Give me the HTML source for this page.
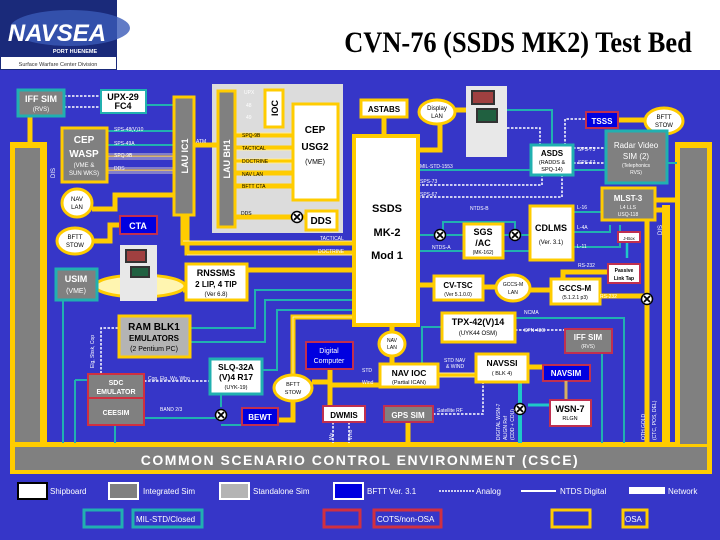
<!DOCTYPE html>
<html><head><meta charset="utf-8"><style>
html,body{margin:0;padding:0;width:720px;height:540px;overflow:hidden;background:#fff}
svg{display:block;font-family:"Liberation Sans",sans-serif}
</style></head><body>
<svg width="720" height="540" viewBox="0 0 720 540" xmlns="http://www.w3.org/2000/svg">
<defs>
<g id="xc"><circle r="5.5" fill="#fff" stroke="#000" stroke-width="1.5"/><path d="M-3,-3L3,3M-3,3L3,-3" stroke="#000" stroke-width="1.8"/></g>
</defs>
<!-- header -->
<rect x="0" y="0" width="720" height="70" fill="#fff"/>
<rect x="0" y="0" width="117" height="70" fill="#1a2a7a"/>
<ellipse cx="70" cy="28" rx="60" ry="18" fill="#3a5ab8" opacity="0.8"/>
<text x="57" y="41" text-anchor="middle" font-size="24" font-weight="bold" font-style="italic" fill="#fff">NAVSEA</text>
<text x="75" y="53" text-anchor="middle" font-size="5.5" font-weight="bold" fill="#fff">PORT HUENEME</text>
<rect x="1" y="57" width="115" height="12" fill="#fff"/>
<text x="58" y="66" text-anchor="middle" font-size="5.5" fill="#333">Surface Warfare Center Division</text>
<text x="518" y="52" text-anchor="middle" font-size="30" font-weight="bold" font-family="Liberation Serif,serif" fill="#000" transform="translate(518,0) scale(0.88,1) translate(-518,0)">CVN-76 (SSDS MK2) Test Bed</text>
<rect x="0" y="70" width="720" height="470" fill="#3636c8"/>

<!-- frame bars -->
<rect x="10" y="142" width="37" height="310" fill="#ffcc00"/>
<rect x="15" y="148" width="25" height="300" fill="#808080"/>
<rect x="10" y="442" width="702" height="32" fill="#ffcc00"/>
<rect x="15" y="447" width="692" height="23" fill="#808080"/>
<text x="360" y="465" text-anchor="middle" font-size="14" font-weight="bold" fill="#fff" letter-spacing="1.5">COMMON SCENARIO CONTROL ENVIRONMENT (CSCE)</text>
<rect x="675" y="142" width="37" height="305" fill="#ffcc00"/>
<rect x="680" y="148" width="27" height="296" fill="#808080"/>
<rect x="662" y="205" width="8" height="240" fill="#ffcc00"/>
<text x="662" y="235" font-size="6" fill="#fff" transform="rotate(-90 662 235)">DIS</text>
<text x="55" y="178" font-size="6" fill="#fff" transform="rotate(-90 55 178)">DIS</text>

<!-- gray panel -->
<rect x="212" y="84" width="131" height="149" fill="#dcdcdc"/>

<!-- yellow buses -->
<g stroke="#ffcc00" fill="none" stroke-width="5">
<path d="M195,145H217"/>
<path d="M235,135H292M235,148H292M235,161H292M235,173H292M235,186H292"/>
<path d="M235,217H305"/>
<path d="M183,215V243H353M187,215V253H353"/>
<path d="M247,270H353"/>
<path d="M384,117V135"/>
<path d="M647,220V443"/>
<path d="M600,296H647"/>
<path d="M210,290H183"/>
<path d="M92,209H115V195H175"/>
<path d="M94,241H110V225H119"/>
<path d="M392,342V363"/>
<path d="M392,325V332"/>
<path d="M438,375H475"/>
<path d="M380,385H330V405"/>
<path d="M528,367H542"/>
<path d="M408,422V443"/>
<path d="M293,402V420H278"/>
<path d="M330,369V382H312"/>
<path d="M293,376V317H353"/>
<path d="M418,285H433M483,287H496M530,290H550"/>
<path d="M563,278V272H607"/>
<path d="M655,200H675M655,210H662"/>
<path d="M618,120H645"/>
<path d="M455,110H466"/>
<path d="M420,150H440V123"/>
<path d="M30,116V142"/>
</g>
<g stroke="#fff5cc" stroke-width="0.7" fill="none">
<path d="M183,241H353M187,255H353M235,133H292M235,150H292M235,159H292M235,163H292"/>
<path d="M107,154H173M107,157H173M107,159H173M107,168H173M107,171H173M107,173H173"/>
<path d="M438,373H475M438,377H475M293,376V317H353"/>
</g>
<g stroke="#d8b060" stroke-width="1.5" fill="none">
<path d="M107,156H173M107,170H173"/>
</g>

<!-- teal lines -->
<g stroke="#21b0b0" stroke-width="2" fill="none">
<path d="M146,105H173"/>
<path d="M107,131H173M107,145H173"/>
<path d="M30,116V89"/>
<path d="M418,170H605"/>
<path d="M418,235H463M503,235H529M418,251H463M503,251H529"/>
<path d="M443,235V222H515V235"/>
<path d="M573,212H610V190M573,232H610V225M573,247H620V225"/>
<path d="M667,163H677"/>
<path d="M507,110H552V144"/>
<path d="M190,328H255V290H353M190,342H265V300H353M262,370H277V310H353"/>
<path d="M63,300V443M75,380H87M75,380V443M115,425V443"/>
<path d="M221,394V407M221,425H241M144,418H221"/>
<path d="M441,327H422V363"/>
<path d="M515,318H624V443M602,353V443"/>
</g>
<path d="M520,382V443" stroke="#1fc8c8" stroke-width="4"/>
<path d="M549,405H528" stroke="#1fc8c8" stroke-width="3"/>
<path d="M627,242V258" stroke="#1fc8c8" stroke-width="2.5"/>
<!-- white dashed -->
<g stroke="#fff" stroke-width="1.5" stroke-dasharray="2.5,1.5" fill="none">
<path d="M64,96H101M64,107H101"/>
<path d="M418,185H542V176M418,197H562V176"/>
<path d="M507,128H540V144"/>
<path d="M573,148H605M573,163H605"/>
<path d="M585,119H565V144"/>
<path d="M118,328H101V373"/>
<path d="M144,381H209"/>
<path d="M515,330H564"/>
<path d="M433,414H483V382"/>
<path d="M333,422V443M349,422V443"/>
</g>
<use href="#xc" x="297" y="217"/>
<use href="#xc" x="440" y="235"/>
<use href="#xc" x="515" y="235"/>
<use href="#xc" x="647" y="299"/>
<use href="#xc" x="221" y="415"/>
<use href="#xc" x="520" y="409"/>

<!-- computer images -->
<ellipse cx="140" cy="286" rx="45" ry="11" fill="#fff5b0" stroke="#ffcc00" stroke-width="3"/>
<rect x="120" y="245" width="37" height="56" fill="#e8e8e8"/>
<rect x="125" y="249" width="22" height="14" fill="#333"/><rect x="127" y="251" width="18" height="10" fill="#a04040"/>
<rect x="130" y="266" width="20" height="12" fill="#333"/><rect x="132" y="268" width="16" height="8" fill="#206040"/>
<rect x="466" y="86" width="41" height="71" fill="#e8e8e8"/>
<rect x="471" y="90" width="24" height="15" fill="#333"/><rect x="473" y="92" width="20" height="11" fill="#a04040"/>
<rect x="476" y="108" width="22" height="15" fill="#333"/><rect x="478" y="110" width="18" height="11" fill="#206040"/>

<!-- boxes -->
<g font-weight="bold" text-anchor="middle">
<rect x="18" y="90" width="46" height="26" fill="#808080" stroke="#21b0b0" stroke-width="3"/>
<text x="41" y="102" font-size="9" fill="#fff">IFF SIM</text><text x="41" y="111" font-size="6" fill="#fff" font-weight="normal">(RVS)</text>
<rect x="101" y="90" width="45" height="23" fill="#fff" stroke="#21b0b0" stroke-width="2"/>
<text x="123" y="100" font-size="9">UPX-29</text><text x="123" y="109" font-size="9">FC4</text>
<rect x="62" y="128" width="45" height="54" fill="#808080" stroke="#ffcc00" stroke-width="3"/>
<text x="84" y="143" font-size="10" fill="#fff">CEP</text><text x="84" y="157" font-size="10" fill="#fff">WASP</text>
<text x="84" y="167" font-size="6" fill="#fff" font-weight="normal">(VME &amp;</text><text x="84" y="175" font-size="6" fill="#fff" font-weight="normal">SUN WKS)</text>
<rect x="174" y="97" width="20" height="118" fill="#808080" stroke="#ffcc00" stroke-width="3"/>
<text x="188" y="156" font-size="9" fill="#fff" transform="rotate(-90 188 156)">LAU IC1</text>
<rect x="218" y="91" width="17" height="136" fill="#808080" stroke="#ffcc00" stroke-width="3"/>
<text x="230" y="159" font-size="9" fill="#fff" transform="rotate(-90 230 159)">LAU BH1</text>
<rect x="265" y="90" width="18" height="37" fill="#fff" stroke="#ffcc00" stroke-width="3"/>
<text x="278" y="108" font-size="9" transform="rotate(-90 278 108)">IOC</text>
<rect x="293" y="104" width="45" height="96" fill="#fff" stroke="#ffcc00" stroke-width="3"/>
<text x="315" y="133" font-size="10">CEP</text><text x="315" y="150" font-size="10">USG2</text><text x="315" y="164" font-size="7" font-weight="normal">(VME)</text>
<rect x="306" y="211" width="31" height="19" fill="#fff" stroke="#ffcc00" stroke-width="3"/>
<text x="321" y="224" font-size="10">DDS</text>
<ellipse cx="77" cy="203" rx="15" ry="14" fill="#fff" stroke="#ffcc00" stroke-width="3"/>
<text x="77" y="201" font-size="6" font-weight="normal">NAV</text><text x="77" y="209" font-size="6" font-weight="normal">LAN</text>
<ellipse cx="75" cy="241" rx="18" ry="13" fill="#fff" stroke="#ffcc00" stroke-width="3"/>
<text x="75" y="239" font-size="6" font-weight="normal">BFTT</text><text x="75" y="247" font-size="6" font-weight="normal">STOW</text>
<rect x="120" y="216" width="37" height="18" fill="#0000e0" stroke="#c03050" stroke-width="2"/>
<text x="138" y="229" font-size="9" fill="#fff">CTA</text>
<rect x="56" y="269" width="41" height="31" fill="#808080" stroke="#21b0b0" stroke-width="3"/>
<text x="76" y="282" font-size="9" fill="#fff">USIM</text><text x="76" y="293" font-size="7" fill="#fff" font-weight="normal">(VME)</text>
<rect x="186" y="264" width="61" height="36" fill="#fff" stroke="#ffcc00" stroke-width="3"/>
<text x="216" y="276" font-size="9">RNSSMS</text><text x="216" y="287" font-size="8">2 LIP, 4 TIP</text><text x="216" y="296" font-size="6" font-weight="normal">(Ver 6.8)</text>
<rect x="361" y="100" width="46" height="17" fill="#fff" stroke="#ffcc00" stroke-width="3"/>
<text x="384" y="112" font-size="8">ASTABS</text>
<ellipse cx="437" cy="112" rx="18" ry="12" fill="#fff" stroke="#ffcc00" stroke-width="3"/>
<text x="437" y="110" font-size="6" font-weight="normal">Display</text><text x="437" y="118" font-size="6" font-weight="normal">LAN</text>
<rect x="354" y="136" width="64" height="189" fill="#fff" stroke="#ffcc00" stroke-width="4"/>
<text x="387" y="212" font-size="11">SSDS</text><text x="387" y="236" font-size="11">MK-2</text><text x="387" y="259" font-size="11">Mod 1</text>
<rect x="586" y="112" width="32" height="16" fill="#0000e0" stroke="#c03050" stroke-width="2"/>
<text x="602" y="124" font-size="8" fill="#fff">TSSS</text>
<ellipse cx="664" cy="121" rx="19" ry="13" fill="#fff" stroke="#ffcc00" stroke-width="3"/>
<text x="664" y="119" font-size="6" font-weight="normal">BFTT</text><text x="664" y="127" font-size="6" font-weight="normal">STOW</text>
<rect x="606" y="131" width="61" height="52" fill="#808080" stroke="#21b0b0" stroke-width="3"/>
<text x="636" y="148" font-size="8" fill="#fff" font-weight="normal">Radar Video</text><text x="636" y="159" font-size="8" fill="#fff" font-weight="normal">SIM (2)</text>
<text x="636" y="167" font-size="5" fill="#fff" font-weight="normal">(Telephonics</text><text x="636" y="174" font-size="5" fill="#fff" font-weight="normal">RVS)</text>
<rect x="531" y="145" width="42" height="30" fill="#fff" stroke="#21b0b0" stroke-width="3"/>
<text x="552" y="156" font-size="8">ASDS</text><text x="552" y="164" font-size="5.5" font-weight="normal">(RADDS &amp;</text><text x="552" y="171" font-size="5.5" font-weight="normal">SPQ-14)</text>
<rect x="602" y="188" width="53" height="32" fill="#808080" stroke="#ffcc00" stroke-width="3"/>
<text x="628" y="201" font-size="8" fill="#fff">MLST-3</text><text x="628" y="209" font-size="5" fill="#fff" font-weight="normal">L4 LLS</text><text x="628" y="216" font-size="5" fill="#fff" font-weight="normal">USQ-118</text>
<rect x="530" y="206" width="43" height="54" fill="#fff" stroke="#ffcc00" stroke-width="3"/>
<text x="551" y="231" font-size="9">CDLMS</text><text x="551" y="244" font-size="6" font-weight="normal">(Ver. 3.1)</text>
<rect x="464" y="224" width="39" height="34" fill="#fff" stroke="#ffcc00" stroke-width="3"/>
<text x="483" y="235" font-size="9">SGS</text><text x="483" y="246" font-size="9">/AC</text><text x="483" y="254" font-size="5" font-weight="normal">(MK-162)</text>
<rect x="618" y="232" width="22" height="10" fill="#fff" stroke="#c03050" stroke-width="2"/>
<text x="629" y="240" font-size="4.5" font-weight="normal">J-Box</text>
<rect x="608" y="264" width="32" height="19" fill="#fff" stroke="#c03050" stroke-width="2"/>
<text x="624" y="272" font-size="5">Passive</text><text x="624" y="280" font-size="5">Link Tap</text>
<rect x="434" y="276" width="49" height="24" fill="#fff" stroke="#ffcc00" stroke-width="3"/>
<text x="458" y="288" font-size="8">CV-TSC</text><text x="458" y="296" font-size="5" font-weight="normal">(Ver 5.1.0.0)</text>
<ellipse cx="513" cy="288" rx="17" ry="13" fill="#fff" stroke="#ffcc00" stroke-width="3"/>
<text x="513" y="286" font-size="5" font-weight="normal">GCCS-M</text><text x="513" y="294" font-size="5" font-weight="normal">LAN</text>
<rect x="551" y="279" width="49" height="25" fill="#fff" stroke="#ffcc00" stroke-width="3"/>
<text x="575" y="291" font-size="8">GCCS-M</text><text x="575" y="299" font-size="5" font-weight="normal">(5.1.2.1 p3)</text>
<rect x="119" y="316" width="71" height="41" fill="#b4b4b4" stroke="#ffcc00" stroke-width="3"/>
<text x="154" y="330" font-size="10">RAM BLK1</text><text x="154" y="341" font-size="8">EMULATORS</text><text x="154" y="351" font-size="7" font-weight="normal">(2 Pentium PC)</text>
<rect x="88" y="374" width="56" height="51" fill="#808080" stroke="#d03040" stroke-width="2"/>
<line x1="88" y1="398" x2="144" y2="398" stroke="#d03040" stroke-width="2"/>
<text x="116" y="385" font-size="7" fill="#fff">SDC</text><text x="116" y="394" font-size="7" fill="#fff">EMULATOR</text>
<text x="116" y="415" font-size="7" fill="#fff">CEESIM</text>
<rect x="210" y="359" width="52" height="35" fill="#fff" stroke="#21b0b0" stroke-width="3"/>
<text x="236" y="370" font-size="8.5">SLQ-32A</text><text x="236" y="380" font-size="8.5">(V)4 R17</text><text x="236" y="389" font-size="5.5" font-weight="normal">(UYK-19)</text>
<rect x="306" y="342" width="47" height="27" fill="#0000e0" stroke="#c03050" stroke-width="2"/>
<text x="329" y="353" font-size="7" fill="#fff" font-weight="normal">Digital</text><text x="329" y="363" font-size="7" fill="#fff" font-weight="normal">Computer</text>
<ellipse cx="293" cy="388" rx="19" ry="13" fill="#fff" stroke="#ffcc00" stroke-width="3"/>
<text x="293" y="386" font-size="5.5" font-weight="normal">BFTT</text><text x="293" y="394" font-size="5.5" font-weight="normal">STOW</text>
<rect x="242" y="408" width="36" height="17" fill="#0000e0" stroke="#c03050" stroke-width="2"/>
<text x="260" y="420" font-size="8" fill="#fff">BEWT</text>
<rect x="323" y="406" width="42" height="16" fill="#fff" stroke="#c03050" stroke-width="2"/>
<text x="344" y="418" font-size="8">DWMIS</text>
<ellipse cx="392" cy="344" rx="13" ry="12" fill="#fff" stroke="#ffcc00" stroke-width="3"/>
<text x="392" y="342" font-size="5" font-weight="normal">NAV</text><text x="392" y="349" font-size="5" font-weight="normal">LAN</text>
<rect x="380" y="364" width="58" height="23" fill="#fff" stroke="#ffcc00" stroke-width="3"/>
<text x="409" y="376" font-size="8.5">NAV IOC</text><text x="409" y="384" font-size="5.5" font-weight="normal">(Partial ICAN)</text>
<rect x="384" y="406" width="49" height="16" fill="#808080" stroke="#c03050" stroke-width="2"/>
<text x="408" y="418" font-size="8" fill="#fff">GPS SIM</text>
<rect x="442" y="313" width="73" height="29" fill="#fff" stroke="#ffcc00" stroke-width="3"/>
<text x="478" y="325" font-size="9">TPX-42(V)14</text><text x="478" y="335" font-size="6" font-weight="normal">(UYK44 OSM)</text>
<rect x="476" y="354" width="52" height="28" fill="#fff" stroke="#ffcc00" stroke-width="3"/>
<text x="502" y="366" font-size="8.5">NAVSSI</text><text x="502" y="375" font-size="5.5" font-weight="normal">( BLK 4)</text>
<rect x="543" y="365" width="47" height="16" fill="#0000e0" stroke="#c03050" stroke-width="2"/>
<text x="566" y="376" font-size="8" fill="#fff">NAVSIM</text>
<path d="M566,381V399" stroke="#d8b060" stroke-width="3"/>
<rect x="565" y="329" width="47" height="24" fill="#808080" stroke="#c03050" stroke-width="2"/>
<text x="588" y="340" font-size="8" fill="#fff">IFF SIM</text><text x="588" y="348" font-size="5" fill="#fff" font-weight="normal">(RVS)</text>
<rect x="550" y="400" width="41" height="26" fill="#fff" stroke="#c03050" stroke-width="2"/>
<text x="570" y="412" font-size="9">WSN-7</text><text x="570" y="420" font-size="5.5" font-weight="normal">RLGN</text>
</g>

<!-- small labels -->
<g font-size="5" fill="#fff">
<text x="244" y="94">UPX</text><text x="246" y="107">48</text><text x="246" y="119">49</text>
<text x="114" y="131">SPS-48(V)10</text><text x="114" y="145">SPS-49A</text><text x="114" y="157">SPQ-9B</text><text x="114" y="170">DDS</text>
<text x="196" y="143">ATM</text>
<text x="242" y="137" fill="#000">SPQ-9B</text><text x="242" y="150" fill="#000">TACTICAL</text><text x="242" y="163" fill="#000">DOCTRINE</text><text x="242" y="176" fill="#000">NAV LAN</text><text x="242" y="188" fill="#000">BFTT CTA</text><text x="241" y="215" fill="#000">DDS</text>
<text x="320" y="240">TACTICAL</text><text x="318" y="253">DOCTRINE</text>
<text x="420" y="168">MIL-STD-1553</text><text x="420" y="183">SPS-73</text><text x="420" y="196">SPS-67</text>
<text x="578" y="151">SPS-73</text><text x="578" y="164">SPS-67</text>
<text x="470" y="210">NTDS-B</text><text x="432" y="249">NTDS-A</text>
<text x="577" y="209">L-16</text><text x="577" y="229">L-4A</text><text x="577" y="248">L-11</text>
<text x="578" y="267">RS-232</text><text x="600" y="298">RS-232</text>
<text x="524" y="314">NCMA</text><text x="524" y="332">SPN-43C</text>
<text x="444" y="362">STD NAV</text><text x="446" y="368">&amp; WIND</text>
<text x="362" y="372">STD</text><text x="362" y="384">Wind</text>
<text x="437" y="412">Satellite RF</text>
<text x="148" y="380">Cop, Elg, Wy, Who</text>
<text x="160" y="411">BAND 2/3</text>
<text x="94" y="368" transform="rotate(-90 94 368)">Elg, Sbsk, Cop</text>
<text x="333" y="440" transform="rotate(-90 333 440)">Wy</text><text x="352" y="440" transform="rotate(-90 352 440)">Who</text>
<text x="500" y="440" transform="rotate(-90 500 440)">DIGITAL WSN-7</text><text x="507" y="440" transform="rotate(-90 507 440)">ALIGN Ref</text><text x="514" y="440" transform="rotate(-90 514 440)">(CDD + COU)</text>
<text x="645" y="440" transform="rotate(-90 645 440)">OTH GOLD</text><text x="656" y="440" transform="rotate(-90 656 440)">(CTC, POS, DEL)</text>
</g>

<!-- legend -->
<g font-size="8" fill="#fff">
<rect x="18" y="483" width="29" height="16" fill="#fff" stroke="#000" stroke-width="2"/><text x="50" y="494">Shipboard</text>
<rect x="109" y="483" width="29" height="16" fill="#808080" stroke="#fff" stroke-width="2"/><text x="143" y="494">Integrated Sim</text>
<rect x="220" y="483" width="29" height="16" fill="#b4b4b4" stroke="#fff" stroke-width="2"/><text x="253" y="494">Standalone Sim</text>
<rect x="334" y="483" width="29" height="16" fill="#0000e0" stroke="#fff" stroke-width="2"/><text x="367" y="494">BFTT Ver. 3.1</text>
<path d="M439,491H475" stroke="#fff" stroke-width="1.5" stroke-dasharray="2,1"/><text x="476" y="494">Analog</text>
<path d="M521,491H556" stroke="#fff" stroke-width="2"/><text x="560" y="494">NTDS Digital</text>
<rect x="629" y="487" width="36" height="7" fill="#fff"/><text x="668" y="494">Network</text>
<rect x="84" y="510" width="38" height="17" fill="none" stroke="#21b0b0" stroke-width="3"/>
<rect x="133" y="510" width="69" height="17" fill="none" stroke="#21b0b0" stroke-width="3"/><text x="136" y="522">MIL-STD/Closed</text>
<rect x="324" y="510" width="36" height="17" fill="none" stroke="#d03040" stroke-width="3"/>
<rect x="374" y="510" width="67" height="17" fill="none" stroke="#d03040" stroke-width="3"/><text x="377" y="522">COTS/non-OSA</text>
<rect x="552" y="510" width="38" height="17" fill="none" stroke="#ffcc00" stroke-width="3"/>
<rect x="623" y="510" width="24" height="17" fill="none" stroke="#ffcc00" stroke-width="3"/><text x="625" y="522">OSA</text>
</g>
</svg>
</body></html>
